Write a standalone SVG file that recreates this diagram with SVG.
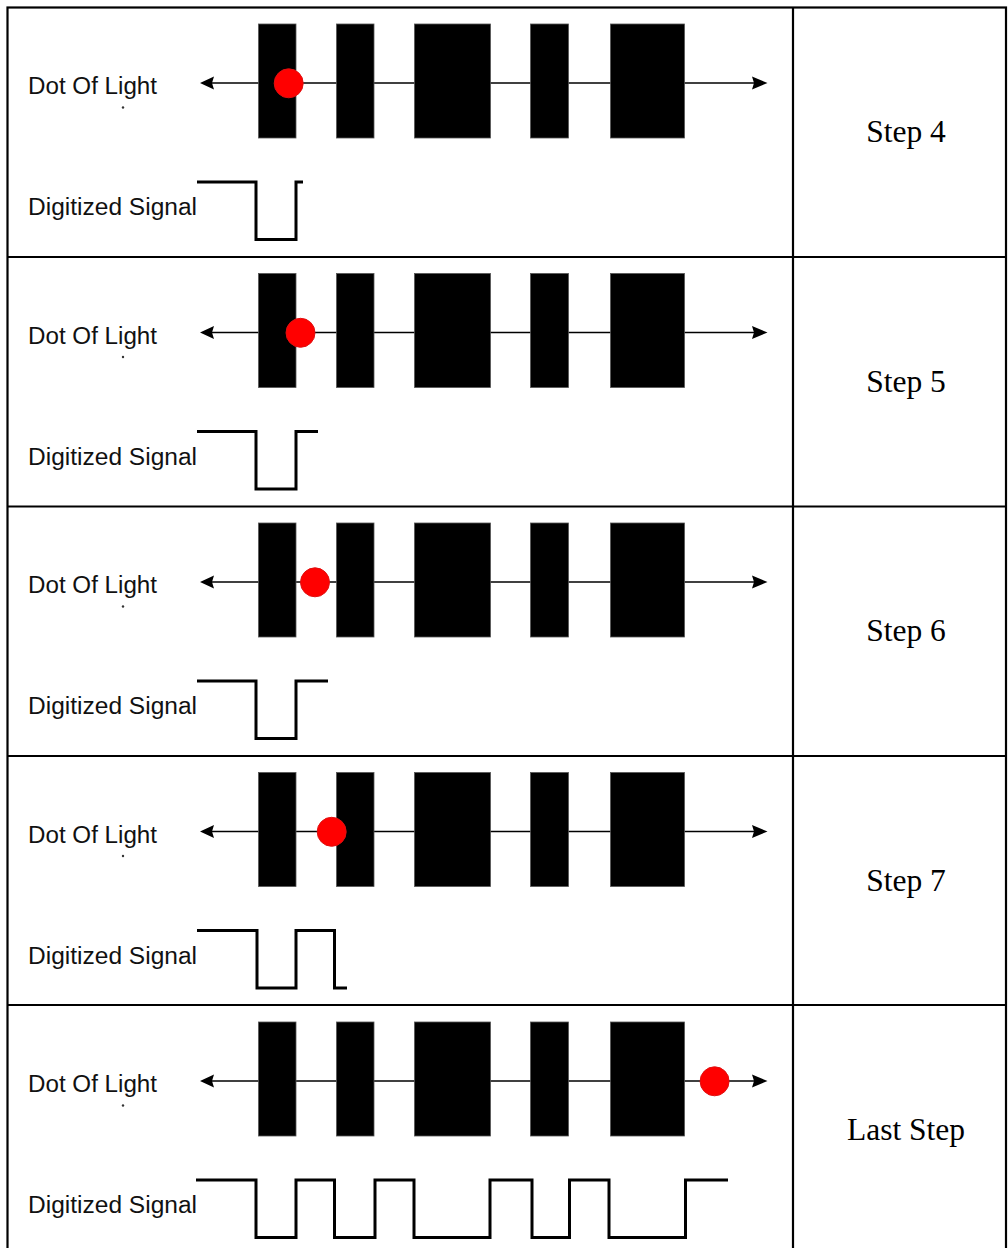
<svg xmlns="http://www.w3.org/2000/svg" width="1008" height="1248" viewBox="0 0 1008 1248">
  <style>
    .grid { fill: none; stroke: #000; stroke-width: 2.2; }
    .lbl { font-family: "Liberation Sans", Arial, sans-serif; font-size: 23.5px; fill: #111; }
    .step { font-family: "Liberation Serif", "Times New Roman", serif; font-size: 31.5px; fill: #000; text-anchor: middle; }
    .axis { stroke: #000; stroke-width: 1.7; fill: none; }
    .head { fill: #000; }
    .bar { fill: #000; stroke: #555; stroke-width: 0.8; }
    .dot { fill: #ff0000; stroke: #e01010; stroke-width: 1; }
    .speck { fill: #333; }
    .sig { fill: none; stroke: #000; stroke-width: 3; stroke-linejoin: miter; }
  </style>
  <defs>
    <!-- shared track: axis, arrowheads, five bars, labels -->
    <g id="track">
      <text class="lbl" x="28" y="94" textLength="129" lengthAdjust="spacingAndGlyphs">Dot Of Light</text>
      <circle class="speck" cx="123" cy="107.5" r="1.2"/>
      <text class="lbl" x="28" y="215" textLength="169" lengthAdjust="spacingAndGlyphs">Digitized Signal</text>
      <line class="axis" x1="212" y1="83" x2="754" y2="83"/>
      <polygon class="head" points="200,83 214,76.5 212,83 214,89.5"/>
      <polygon class="head" points="767.5,83 752,76.5 754,83 752,89.5"/>
      <rect class="bar" x="258.5" y="24" width="37.5" height="114"/>
      <rect class="bar" x="336.5" y="24" width="37.5" height="114"/>
      <rect class="bar" x="414.5" y="24" width="76" height="114"/>
      <rect class="bar" x="530.5" y="24" width="38" height="114"/>
      <rect class="bar" x="610.5" y="24" width="74" height="114"/>
    </g>
  </defs>

  <rect width="1008" height="1248" fill="#fff"/>

  <!-- table frame -->
  <g id="table">
    <rect class="grid" x="7.5" y="7.5" width="998.5" height="1246"/>
    <line class="grid" x1="793" y1="7.5" x2="793" y2="1248"/>
    <line class="grid" x1="7.5" y1="257" x2="1006" y2="257"/>
    <line class="grid" x1="7.5" y1="506.5" x2="1006" y2="506.5"/>
    <line class="grid" x1="7.5" y1="756" x2="1006" y2="756"/>
    <line class="grid" x1="7.5" y1="1005" x2="1006" y2="1005"/>
  </g>

  <g id="row-step4">
    <use href="#track"/>
    <circle class="dot" cx="288.7" cy="83.3" r="14.5"/>
    <polyline class="sig" points="197,182 256,182 256,239.5 296,239.5 296,182 303,182"/>
    <text class="step" x="906" y="142">Step 4</text>
  </g>

  <g id="row-step5" transform="translate(0,249.5)">
    <use href="#track"/>
    <circle class="dot" cx="300.5" cy="83.3" r="14.5"/>
    <polyline class="sig" points="197,182 256,182 256,239.5 296,239.5 296,182 318,182"/>
    <text class="step" x="906" y="142">Step 5</text>
  </g>

  <g id="row-step6" transform="translate(0,499)">
    <use href="#track"/>
    <circle class="dot" cx="315" cy="83.3" r="14.5"/>
    <polyline class="sig" points="197,182 256,182 256,239.5 296,239.5 296,182 328,182"/>
    <text class="step" x="906" y="142">Step 6</text>
  </g>

  <g id="row-step7" transform="translate(0,748.5)">
    <use href="#track"/>
    <circle class="dot" cx="331.7" cy="83.3" r="14.5"/>
    <polyline class="sig" points="197,182 257,182 257,239.5 296,239.5 296,182 334.5,182 334.5,239.5 347,239.5"/>
    <text class="step" x="906" y="142">Step 7</text>
  </g>

  <g id="row-last" transform="translate(0,998)">
    <use href="#track"/>
    <circle class="dot" cx="714.6" cy="83.3" r="14.5"/>
    <polyline class="sig" points="196,182 256,182 256,239.5 296,239.5 296,182 334.5,182 334.5,239.5 375,239.5 375,182 414,182 414,239.5 490,239.5 490,182 532,182 532,239.5 569.5,239.5 569.5,182 609,182 609,239.5 685.5,239.5 685.5,182 728,182"/>
    <text class="step" x="906" y="142">Last Step</text>
  </g>
</svg>
